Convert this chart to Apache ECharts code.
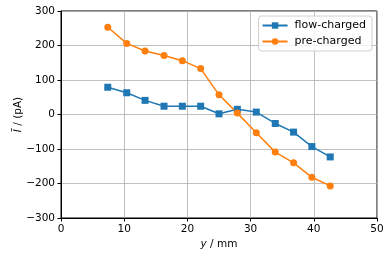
<!DOCTYPE html>
<html><head><meta charset="utf-8">
<script src="https://cdn.jsdelivr.net/npm/echarts@6/dist/echarts.min.js"></script>
<style>html,body{margin:0;padding:0;background:#fff}#c{width:391px;height:257px}</style>
</head><body><div id="c"></div>
<script>
const yPositions = [7.4, 10.4, 13.3, 16.3, 19.2, 22.1, 25.0, 27.9, 30.9, 33.9, 36.8, 39.7, 42.6];
const flowCharged = [79, 63, 41, 24, 24, 24, 2, 15, 7, -26, -51, -93, -123];
const preCharged = [253, 206, 184, 171, 156, 133, 57, 4, -53, -109, -140, -182, -207];
const seriesNames = ['flow-charged', 'pre-charged'];
const xTicks = [0, 10, 20, 30, 40, 50];
const yTicks = [-300, -200, -100, 0, 100, 200, 300];

const font = 'DejaVu Sans';
const fs = 10.5;
const chart = echarts.init(document.getElementById('c'), null, {renderer: 'canvas'});
const pair = (xs, ys) => xs.map((x, i) => [x, ys[i]]);
chart.setOption({
  animation: false,
  textStyle: {fontFamily: font},
  grid: {left: 61, right: 14, top: 11, bottom: 39, outerBoundsMode: 'none', containLabel: false,
         show: true, borderColor: '#000', borderWidth: 1, backgroundColor: 'transparent'},
  legend: {
    right: 19, top: 16, orient: 'vertical', itemWidth: 25, itemHeight: 8, itemGap: 5,
    padding: [4, 6, 4, 3], borderColor: '#d0d0d0', borderWidth: 1, borderRadius: 3,
    backgroundColor: 'rgba(255,255,255,0.8)',
    textStyle: {fontFamily: font, fontSize: 11, color: '#000', padding: [0, 0, 0, 2]},
    data: seriesNames
  },
  xAxis: {
    type: 'value', min: xTicks[0], max: xTicks[xTicks.length - 1], interval: 10,
    name: '{i|y} / mm', nameLocation: 'middle', nameGap: 21, nameMoveOverlap: false,
    nameTextStyle: {fontFamily: font, fontSize: fs, color: '#000', rich: {i: {fontFamily: font, fontStyle: 'italic', fontSize: fs}}},
    axisLine: {show: true, onZero: false, lineStyle: {color: '#000', width: 1}},
    axisTick: {show: true, inside: false, length: 3.5, lineStyle: {color: '#000'}},
    axisLabel: {fontFamily: font, fontSize: fs, color: '#000', margin: 6},
    splitLine: {show: true, lineStyle: {color: '#b0b0b0', width: 0.8}}
  },
  yAxis: {
    type: 'value', min: yTicks[0], max: yTicks[yTicks.length - 1], interval: 100,
    name: '{i|Ī} / (pA)', nameLocation: 'middle', nameGap: 37, nameRotate: 90, nameMoveOverlap: false,
    nameTextStyle: {fontFamily: font, fontSize: fs, color: '#000', rich: {i: {fontFamily: font, fontStyle: 'italic', fontSize: fs}}},
    axisLine: {show: true, onZero: false, lineStyle: {color: '#000', width: 1}},
    axisTick: {show: true, inside: false, length: 3.5, lineStyle: {color: '#000'}},
    axisLabel: {fontFamily: font, fontSize: fs, color: '#000', margin: 6,
      formatter: v => (v < 0 ? '\u2212' + Math.abs(v) : String(v))},
    splitLine: {show: true, lineStyle: {color: '#b0b0b0', width: 0.8}}
  },
  series: [
    {name: seriesNames[0], type: 'line', data: pair(yPositions, flowCharged), symbol: 'rect', symbolSize: 7,
     itemStyle: {color: '#1f77b4'}, lineStyle: {color: '#1f77b4', width: 1.5}},
    {name: seriesNames[1], type: 'line', data: pair(yPositions, preCharged), symbol: 'circle', symbolSize: 7,
     itemStyle: {color: '#ff7f0e'}, lineStyle: {color: '#ff7f0e', width: 1.5}}
  ]
});
</script></body></html>
